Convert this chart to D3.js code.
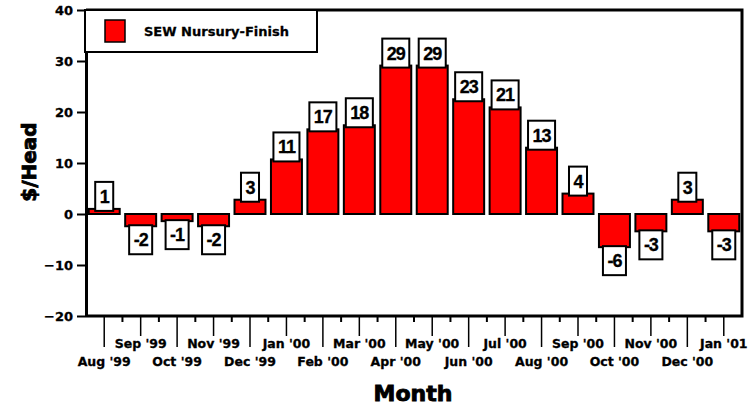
<!DOCTYPE html>
<html>
<head>
<meta charset="utf-8">
<script src="https://cdn.jsdelivr.net/npm/d3@7"></script>
<style>
body { margin: 0; background: #fff; }
text { font-family: "DejaVu Sans", sans-serif; font-weight: bold; fill: #000; stroke: #000; stroke-width: 0.3px; }
text.title { stroke-width: 0.9px; }
</style>
</head>
<body>
<div id="chart"></div>
<script>
var months = ["Aug '99", "Sep '99", "Oct '99", "Nov '99", "Dec '99", "Jan '00", "Feb '00", "Mar '00", "Apr '00",
  "May '00", "Jun '00", "Jul '00", "Aug '00", "Sep '00", "Oct '00", "Nov '00", "Dec '00", "Jan '01"];
var values = [1.0, -2.4, -1.4, -2.4, 2.8, 10.7, 16.6, 17.4, 29.1, 29.1, 22.5, 20.9, 13.0, 4.0, -6.5, -3.4, 2.8, -3.4];
var labels = [1, -2, -1, -2, 3, 11, 17, 18, 29, 29, 23, 21, 13, 4, -6, -3, 3, -3];
var yTicks = [-20, -10, 0, 10, 20, 30, 40];
var seriesName = "SEW Nursury-Finish";

(function() {
var width = 749,
  height = 410;
var plot = { left: 86, right: 742, top: 10, bottom: 316 };

var svg = d3.select("#chart")
  .append("svg")
  .attr("width", width)
  .attr("height", height)

var x = d3.scaleBand()
  .domain(months)
  .range([plot.left, plot.right])
  .paddingInner(0.15)
  .paddingOuter(0.075)

var y = d3.scaleLinear()
  .domain([-20, 40])
  .range([plot.bottom, plot.top])

var data = months.map(function(m, i) {
  return { month: m, value: values[i], label: labels[i], i: i };
})

// bars
svg.selectAll(".bar")
  .data(data)
  .enter().append("rect")
  .attr("class", "bar")
  .attr("x", function(d) { return x(d.month); })
  .attr("width", x.bandwidth())
  .attr("y", function(d) { return y(Math.max(0, d.value)); })
  .attr("height", function(d) { return Math.abs(y(d.value) - y(0)); })
  .attr("fill", "#ff0000")
  .attr("stroke", "#000")
  .attr("stroke-width", 2)

// value boxes
var boxes = svg.selectAll(".vbox")
  .data(data)
  .enter().append("g")
  .attr("class", "vbox")

boxes.each(function(d) {
  var g = d3.select(this);
  var cx = x(d.month) + x.bandwidth() / 2;
  var by = d.value >= 0 ? y(d.value) - 27 : y(d.value) - 1;
  var t = g.append("text")
    .attr("x", cx)
    .attr("y", by + 21)
    .attr("text-anchor", "middle")
    .style("font-family", "'Liberation Sans', Arial, sans-serif")
    .style("font-size", "18px")
    .style("letter-spacing", "-1px")
    .text(d.label);
  var w = t.node().getComputedTextLength() + 9;
  g.insert("rect", "text")
    .attr("x", cx - w / 2)
    .attr("y", by)
    .attr("width", w)
    .attr("height", 29)
    .attr("fill", "#fff")
    .attr("stroke", "#000")
    .attr("stroke-width", 2);
})

// frame
svg.append("path")
  .attr("d", "M" + plot.left + "," + plot.top + "H" + plot.right + "V" + plot.bottom + "H" + plot.left)
  .attr("fill", "none")
  .attr("stroke", "#000")
  .attr("stroke-width", 3)

// y axis
var yAxis = svg.append("g")
  .attr("transform", "translate(" + plot.left + ",0)")
  .call(d3.axisLeft(y).tickValues(yTicks).tickSize(9).tickSizeOuter(0).tickPadding(4))

yAxis.select(".domain").attr("stroke-width", 3)
yAxis.selectAll(".tick line").attr("stroke-width", 2)
yAxis.selectAll("text")
  .style("font-family", "'DejaVu Sans', sans-serif")
  .style("font-size", "13px")
  .style("font-weight", "bold")

// x axis: minor ticks between months, staggered labels
var step = x.step();
svg.selectAll(".xminor")
  .data(data.slice(0, data.length - 1))
  .enter().append("line")
  .attr("class", "xminor")
  .attr("x1", function(d) { return x(d.month) + x.bandwidth() + (step - x.bandwidth()) / 2; })
  .attr("x2", function(d) { return x(d.month) + x.bandwidth() + (step - x.bandwidth()) / 2; })
  .attr("y1", plot.bottom)
  .attr("y2", plot.bottom + 6)
  .attr("stroke", "#000")
  .attr("stroke-width", 2)

svg.selectAll(".xtick")
  .data(data)
  .enter().append("line")
  .attr("class", "xtick")
  .attr("x1", function(d) { return x(d.month) + x.bandwidth() / 2; })
  .attr("x2", function(d) { return x(d.month) + x.bandwidth() / 2; })
  .attr("y1", plot.bottom)
  .attr("y2", function(d) { return d.i % 2 == 0 ? 347 : 336; })
  .attr("stroke", "#000")
  .attr("stroke-width", 1.5)

svg.selectAll(".xlabel")
  .data(data)
  .enter().append("text")
  .attr("class", "xlabel")
  .attr("x", function(d) { return x(d.month) + x.bandwidth() / 2; })
  .attr("y", function(d) { return d.i % 2 == 0 ? 366 : 348; })
  .attr("text-anchor", "middle")
  .style("font-size", "12.5px")
  .text(function(d) { return d.month; })

// axis titles
svg.append("text")
  .attr("class", "title")
  .attr("x", 413)
  .attr("y", 401)
  .attr("text-anchor", "middle")
  .style("font-size", "22px")
  .text("Month")

svg.append("text")
  .attr("class", "title")
  .attr("transform", "translate(36,162) rotate(-90)")
  .attr("text-anchor", "middle")
  .style("font-size", "20px")
  .text("$/Head")

// legend
var legend = svg.append("g")
legend.append("rect")
  .attr("x", 85)
  .attr("y", 10)
  .attr("width", 232)
  .attr("height", 42)
  .attr("fill", "#fff")
  .attr("stroke", "#000")
  .attr("stroke-width", 2)
legend.append("rect")
  .attr("x", 105)
  .attr("y", 20)
  .attr("width", 20)
  .attr("height", 22)
  .attr("fill", "#ff0000")
  .attr("stroke", "#000")
  .attr("stroke-width", 1.5)
legend.append("text")
  .attr("x", 144)
  .attr("y", 36)
  .style("font-size", "13px")
  .text(seriesName)
})();
</script>
</body>
</html>
